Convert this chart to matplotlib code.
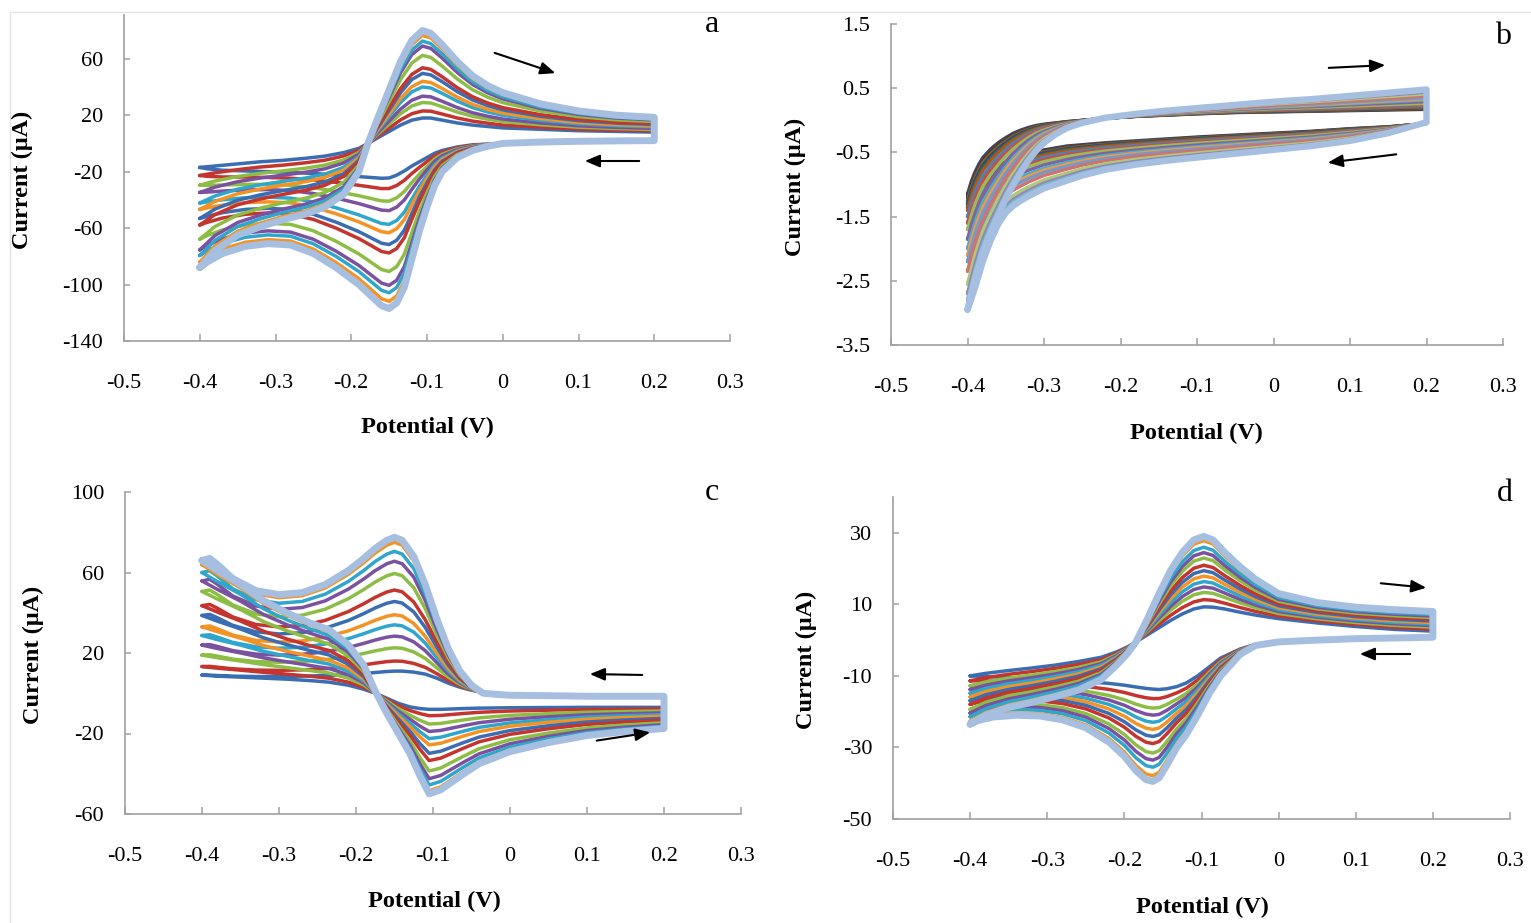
import numpy as np
import matplotlib
matplotlib.use("Agg")
import matplotlib.pyplot as plt
from matplotlib.patches import FancyArrowPatch
from matplotlib.lines import Line2D

# ---------------- data ----------------
x_ticks = [-0.5, -0.4, -0.3, -0.2, -0.1, 0.0, 0.1, 0.2, 0.3]
x_tick_labels = ["-0.5", "-0.4", "-0.3", "-0.2", "-0.1", "0", "0.1", "0.2", "0.3"]

# panel a: forward (upper) and reverse (lower) sweeps; innermost and outermost CV
a_E_fwd = [-0.40, -0.38, -0.35, -0.32, -0.29, -0.26, -0.235, -0.21, -0.19, -0.178, -0.165, -0.15,
           -0.135, -0.12, -0.106, -0.095, -0.08, -0.06, -0.04, -0.02, 0.0, 0.05, 0.10, 0.15, 0.20]
a_fwd_outer = [-88, -76, -65, -59, -54, -50, -45, -36, -20, 0, 18, 38, 58, 73, 80, 78, 70, 58, 48,
               41, 36, 28, 23, 20, 18.5]
a_fwd_inner = [-17, -16, -14.5, -13, -12, -10.5, -9, -6.5, -3.5, 0, 4, 8.5, 13, 16.5, 18, 18, 16.5,
               14.5, 13, 12, 11, 10, 9, 8.5, 8]
a_E_rev = [0.20, 0.15, 0.10, 0.05, 0.0, -0.02, -0.04, -0.06, -0.08, -0.09, -0.10, -0.11, -0.12, -0.13,
           -0.14, -0.15, -0.16, -0.17, -0.19, -0.22, -0.25, -0.28, -0.31, -0.34, -0.37, -0.39, -0.40]
a_rev_outer = [2, 1.8, 1.5, 1, 0, -2, -5, -10, -20, -30, -45, -62, -82, -102, -113, -117, -115, -110,
               -100, -88, -78, -72, -71, -73, -78, -84, -88]
a_rev_inner = [1.5, 1.3, 1, 0.5, 0, -0.5, -1, -2.5, -5, -7, -10, -13, -16, -19.5, -22.5, -24.5, -24.7,
               -24.3, -23.5, -22.3, -21.3, -20.5, -20, -19.5, -19, -18, -17]
a_peaks = [18, 23, 29, 33.5, 40, 44, 49.6, 53.6, 62.4, 69, 72.5, 76.6, 80]

# panel b
b_E_fwd = [-0.40, -0.395, -0.39, -0.385, -0.38, -0.37, -0.36, -0.35, -0.34, -0.33, -0.32, -0.31, -0.30,
           -0.285, -0.27, -0.25, -0.22, -0.18, -0.14, -0.10, -0.05, 0.0, 0.05, 0.10, 0.15, 0.20]
b_fwd_outer = [-2.95, -2.7, -2.45, -2.25, -2.05, -1.75, -1.48, -1.22, -1.0, -0.8, -0.62, -0.47, -0.35,
               -0.22, -0.12, -0.04, 0.04, 0.10, 0.15, 0.19, 0.24, 0.29, 0.33, 0.38, 0.43, 0.48]
b_fwd_inner = [-1.15, -0.95, -0.8, -0.68, -0.58, -0.45, -0.35, -0.27, -0.2, -0.15, -0.11, -0.08, -0.06,
               -0.04, -0.02, 0.0, 0.03, 0.06, 0.08, 0.10, 0.12, 0.13, 0.14, 0.15, 0.16, 0.17]
b_E_rev = [0.20, 0.15, 0.10, 0.05, 0.0, -0.05, -0.10, -0.14, -0.18, -0.22, -0.25, -0.27, -0.285, -0.30,
           -0.31, -0.32, -0.33, -0.34, -0.35, -0.36, -0.37, -0.38, -0.385, -0.39, -0.395, -0.40]
b_rev_outer = [-0.03, -0.2, -0.32, -0.4, -0.46, -0.52, -0.58, -0.63, -0.69, -0.77, -0.86, -0.94, -1.0,
               -1.06, -1.12, -1.18, -1.25, -1.33, -1.44, -1.62, -1.88, -2.2, -2.4, -2.6, -2.78, -2.95]
b_rev_inner = [-0.05, -0.1, -0.13, -0.17, -0.2, -0.23, -0.26, -0.29, -0.32, -0.35, -0.38, -0.4, -0.43,
               -0.46, -0.49, -0.52, -0.56, -0.6, -0.65, -0.7, -0.77, -0.85, -0.9, -0.97, -1.05, -1.15]
b_start = [-1.15, -1.2, -1.25, -1.3, -1.35, -1.4, -1.5, -1.6, -1.7, -1.85, -2.0, -2.1, -2.2, -2.35,
           -2.55, -2.7, -2.8, -2.9, -2.95]

# panel c: rightward (lower) and leftward (upper) sweeps
c_E_lo = [-0.40, -0.38, -0.35, -0.32, -0.29, -0.26, -0.235, -0.21, -0.19, -0.175, -0.16, -0.145, -0.13,
          -0.117, -0.105, -0.09, -0.075, -0.06, -0.04, -0.02, 0.0, 0.05, 0.10, 0.15, 0.20]
c_lo_outer = [66, 61, 54, 46, 40, 35, 31.5, 24, 14, 1, -10, -20, -30, -41, -50, -48, -44, -40, -35, -32,
              -29, -24.5, -21, -19, -17.5]
c_lo_inner = [9, 8.5, 8, 7.5, 7, 6.3, 5.5, 4, 2, 0, -2.5, -5, -6.8, -7.6, -8, -8, -7.8, -7.6, -7.4,
              -7.3, -7.2, -7.1, -7.0, -7.0, -7.0]
c_E_up = [0.20, 0.15, 0.10, 0.05, 0.0, -0.02, -0.035, -0.05, -0.065, -0.08, -0.095, -0.11, -0.125, -0.14,
          -0.15, -0.16, -0.175, -0.19, -0.21, -0.24, -0.27, -0.30, -0.33, -0.36, -0.38, -0.39, -0.40]
c_up_outer = [-1.5, -1.5, -1.5, -1.2, -1, -0.5, 0, 4, 11, 22, 37, 54, 68, 76, 77.5, 76, 72, 67, 61, 54,
              50, 49, 51, 57, 64, 67, 66]
c_up_inner = [-1, -1, -1, -0.8, -0.5, 0, 0.5, 1.5, 3, 5, 7.5, 9.5, 10.5, 11, 11, 10.8, 10.3, 9.8, 9.2,
              8.8, 8.5, 8.3, 8.3, 8.5, 8.8, 9, 9]
c_peaks = [11, 16, 22.6, 28.4, 34, 39, 45.6, 51.3, 59.5, 65.6, 70.5, 75, 77.5]

# panel d
d_E_fwd = [-0.40, -0.38, -0.35, -0.32, -0.29, -0.26, -0.23, -0.21, -0.195, -0.185, -0.17, -0.155, -0.14,
           -0.125, -0.11, -0.097, -0.085, -0.07, -0.05, -0.03, 0.0, 0.05, 0.10, 0.15, 0.20]
d_fwd_outer = [-23.5, -21, -18.8, -17.4, -15.8, -14, -11, -7, -3.5, -0.5, 6, 13, 19.5, 24.5, 28, 29,
               28, 24.5, 20.5, 17, 13, 10.5, 9.2, 8.5, 8]
d_fwd_inner = [-10, -9.3, -8.5, -7.8, -7, -6, -4.8, -3.3, -1.8, -0.5, 1.5, 3.5, 5.5, 7.3, 8.7, 9.3,
               9.2, 8.7, 7.8, 7, 6, 4.8, 3.8, 3, 2.5]
d_E_rev = [0.20, 0.15, 0.10, 0.05, 0.0, -0.03, -0.05, -0.075, -0.09, -0.105, -0.12, -0.132, -0.145,
           -0.155, -0.163, -0.172, -0.185, -0.2, -0.22, -0.25, -0.28, -0.31, -0.34, -0.37, -0.39, -0.40]
d_rev_outer = [0.8, 0.6, 0.4, 0, -0.5, -1.5, -4, -10, -15, -21, -26.5, -30, -35, -38.5, -39.5, -39,
               -36.5, -32.5, -28.5, -24.5, -22.3, -21.2, -21, -21.5, -22.5, -23.5]
d_rev_inner = [0.8, 0.6, 0.4, 0, -0.5, -1.2, -2.5, -5, -7.5, -10, -12, -13, -13.6, -13.8, -13.7,
               -13.5, -13.1, -12.6, -12.1, -11.6, -11.2, -10.9, -10.6, -10.3, -10.1, -10]
d_peaks = [9.5, 11.5, 13.5, 15, 16.5, 18, 19.5, 21, 23, 24.5, 26, 27.8, 29]

# ---------------- styling ----------------
six = ["#3B6DB3", "#C4352F", "#8DBD45", "#7B52A0", "#2FA6CC", "#F39325"]
outer_col = "#A6BFE1"
b_colors = ["#2C4D75", "#772C2A", "#5F7530", "#4D3B62", "#276A7C", "#B65708",
            "#4F81BD", "#C0504D", "#9BBB59", "#8064A2", "#4BACC6", "#F79646",
            "#729ACA", "#CD7371", "#AFC97A", "#9983B5", "#6FBDD1", "#F9AB6B"]
SERIF = ["Liberation Serif", "DejaVu Serif"]
plt.rcParams["font.family"] = SERIF

W, H = 1531, 923
fig = plt.figure(figsize=(W / 100, H / 100), dpi=100)


def fx(x):
    return x / W


def fy(y):
    return 1 - y / H


def make_axes(left, right, top, bottom, ylim, yticks, ylabels):
    ax = fig.add_axes([fx(left), fy(bottom), (right - left) / W, (bottom - top) / H])
    ax.set_xlim(-0.5, 0.3)
    ax.set_ylim(*ylim)
    ax.set_xticks(x_ticks)
    ax.set_xticklabels(x_tick_labels)
    ax.set_yticks(yticks)
    ax.set_yticklabels(ylabels)
    for s in ["top", "right"]:
        ax.spines[s].set_visible(False)
    for s in ["left", "bottom"]:
        ax.spines[s].set_color("#A0A0A0")
        ax.spines[s].set_linewidth(1.2)
    ax.tick_params(axis="x", direction="in", length=5, width=1.1, color="#A0A0A0",
                   pad=24, labelsize=16)
    ax.tick_params(axis="y", direction="in", length=4, width=1.1, color="#A0A0A0",
                   pad=15, labelsize=16)
    ax.patch.set_alpha(0)
    return ax


def draw_family(ax, E1, in1, out1, E2, in2, out2, weights, colors, lw=2.5, outer_lw=5.0):
    E = np.concatenate([E1, E2])
    inner = np.concatenate([in1, in2])
    outer = np.concatenate([out1, out2])
    n = len(weights)
    for k, w in enumerate(weights):
        I = inner + w * (outer - inner)
        if k == n - 1:
            ax.plot(E, I, color=outer_col, lw=outer_lw, solid_joinstyle="round",
                    solid_capstyle="round", zorder=3 + k)
        else:
            ax.plot(E, I, color=colors[k % len(colors)], lw=lw, solid_joinstyle="round",
                    solid_capstyle="round", zorder=3 + k)


def weights_from(vals):
    v = np.asarray(vals, dtype=float)
    return (v - v[0]) / (v[-1] - v[0])


# panel a
ax_a = make_axes(124, 730, 15, 341, (-140, 91), [60, 20, -20, -60, -100, -140],
                 ["60", "20", "-20", "-60", "-100", "-140"])
draw_family(ax_a, a_E_fwd, a_fwd_inner, a_fwd_outer, a_E_rev, a_rev_inner, a_rev_outer,
            weights_from(a_peaks), six)

# panel b
ax_b = make_axes(891, 1503, 24, 345, (-3.5, 1.5), [1.5, 0.5, -0.5, -1.5, -2.5, -3.5],
                 ["1.5", "0.5", "-0.5", "-1.5", "-2.5", "-3.5"])
draw_family(ax_b, b_E_fwd, b_fwd_inner, b_fwd_outer, b_E_rev, b_rev_inner, b_rev_outer,
            weights_from(b_start), b_colors, lw=2.4, outer_lw=4.6)

# panel c
ax_c = make_axes(125, 741, 492, 814, (-60, 100), [100, 60, 20, -20, -60],
                 ["100", "60", "20", "-20", "-60"])
draw_family(ax_c, c_E_lo, c_lo_inner, c_lo_outer, c_E_up, c_up_inner, c_up_outer,
            weights_from(c_peaks), six)

# panel d
ax_d = make_axes(893, 1510, 497, 819, (-50, 40), [30, 10, -10, -30, -50],
                 ["30", "10", "-10", "-30", "-50"])
draw_family(ax_d, d_E_fwd, d_fwd_inner, d_fwd_outer, d_E_rev, d_rev_inner, d_rev_outer,
            weights_from(d_peaks), six)

# axis titles
xlabels = [(427, 427), (1196, 433), (434, 901), (1202, 907)]
ylabels = [(22, 180), (795, 187), (33, 655), (806, 660)]
for (x, y) in xlabels:
    fig.text(fx(x), fy(y), "Potential (V)", ha="center", va="center", fontsize=17.5,
             fontweight="bold", family=SERIF)
for (x, y) in ylabels:
    fig.text(fx(x), fy(y), "Current (μA)", ha="center", va="center", fontsize=17.5,
             fontweight="bold", rotation=90, family=SERIF)

# panel letters
for (x, y, t) in [(712, 25, "a"), (1503, 37, "b"), (712, 492, "c"), (1505, 494, "d")]:
    fig.text(fx(x), fy(y), t, ha="center", va="center", fontsize=23, family=SERIF)

# arrows (tail -> head)
arrows = [((492, 52), (558, 74)), ((642, 161), (582, 161)),
          ((1326, 68), (1388, 65)), ((1399, 154), (1325, 163)),
          ((645, 675), (587, 674)), ((594, 741), (653, 732)),
          ((1378, 583), (1429, 588)), ((1413, 654), (1357, 654))]
for (x0, y0), (x1, y1) in arrows:
    fig.add_artist(FancyArrowPatch((fx(x0), fy(y0)), (fx(x1), fy(y1)), transform=fig.transFigure,
                                   arrowstyle="-|>,head_length=0.6,head_width=0.25",
                                   mutation_scale=15, lw=1.5, color="black"))

# faint frame lines of the composite figure
fig.add_artist(Line2D([fx(10), fx(W)], [fy(12), fy(12)], transform=fig.transFigure,
                      color="#E3E3E3", lw=1))
fig.add_artist(Line2D([fx(10), fx(10)], [fy(12), fy(H)], transform=fig.transFigure,
                      color="#E3E3E3", lw=1))

fig.savefig("out.png", dpi=100)
